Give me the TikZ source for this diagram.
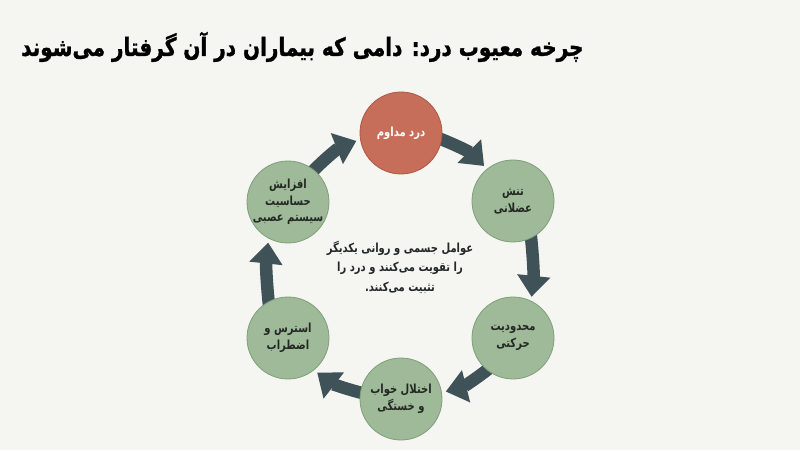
\documentclass[tikz,border=0pt]{standalone}
\usepackage{fontspec}
\usetikzlibrary{arrows.meta}
\TeXXeTstate=1
\newfontfamily\fafont[Script=Arabic,FakeStretch=0.8]{DejaVu Sans}
\newfontfamily\fatitle[Script=Arabic,FakeStretch=0.8,FakeBold=1.2]{DejaVu Sans Bold}
\newcommand{\fatext}[1]{\beginR #1\endR}
\definecolor{bgc}{RGB}{245,245,241}
\definecolor{grfill}{RGB}{158,186,152}
\definecolor{grline}{RGB}{128,158,122}
\definecolor{rdfill}{RGB}{198,110,90}
\definecolor{rdline}{RGB}{172,88,70}
\definecolor{arrc}{RGB}{62,82,88}
\definecolor{txtc}{RGB}{36,40,36}
\pgfdeclarelayer{back}
\pgfdeclarelayer{bg}
\pgfsetlayers{back,bg,main}
\tikzset{
  cyc/.style={circle, minimum size=82pt, inner sep=-6pt, align=center,
    font=\fafont\bfseries\fontsize{12.5}{16.5}\selectfont, line width=0.8pt},
  grnode/.style={cyc, fill=grfill, draw=grline, text=txtc},
  rdnode/.style={cyc, fill=rdfill, draw=rdline, text=white},
  arr/.style={draw=arrc, line width=12.5pt,
    -{Triangle[width=32pt,length=21pt]}, shorten <=-5pt, shorten >=4pt},
  midtext/.style={align=center, text=txtc,
    font=\fafont\bfseries\fontsize{12.5}{19.5}\selectfont},
  titletext/.style={anchor=west, text=black, inner sep=0pt,
    font=\fatitle\fontsize{25}{28}\selectfont}
}
\begin{document}
\begin{tikzpicture}[x=1pt,y=1pt]
\begin{pgfonlayer}{back}
\fill[bgc] (0,0) rectangle (800,450);
\end{pgfonlayer}
\useasboundingbox (0,0) rectangle (800,450);

\node[titletext] (title) at (21,403) {\fatext{چرخه معیوب درد: دامی که بیماران در آن گرفتار می‌شوند}};

\node[rdnode] (n1) at (401,317) {\fatext{درد مداوم}};
\node[grnode] (n2) at (513,249) {\fatext{تنش}\\\fatext{عضلانی}};
\node[grnode] (n3) at (513,112) {\fatext{محدودیت}\\\fatext{حرکتی}};
\node[grnode] (n4) at (401,51) {\fatext{اختلال خواب}\\\fatext{و خستگی}};
\node[grnode] (n5) at (288,112) {\fatext{استرس و}\\\fatext{اضطراب}};
\node[grnode] (n6) at (288,248) {\fatext{افزایش}\\\fatext{حساسیت}\\\fatext{سیستم عصبی}};

\node[midtext] (mid) at (400,183) {\fatext{عوامل جسمی و روانی یکدیگر}\\\fatext{را تقویت می‌کنند و درد را}\\\fatext{تثبیت می‌کنند.}};

\begin{pgfonlayer}{bg}
\draw[arr] (n1.-9) to[bend left=12] (n2.129);
\draw[arr] (n2.-64) to[bend left=6] (n3.64);
\draw[arr] (n3.-129) to[bend left=12] (n4.9);
\draw[arr] (n4.171) to[bend left=12] (n5.-51);
\draw[arr] (n5.118) to[bend left=6] (n6.-118);
\draw[arr] (n6.51) to[bend left=12] (n1.189);
\end{pgfonlayer}
\end{tikzpicture}
\end{document}
